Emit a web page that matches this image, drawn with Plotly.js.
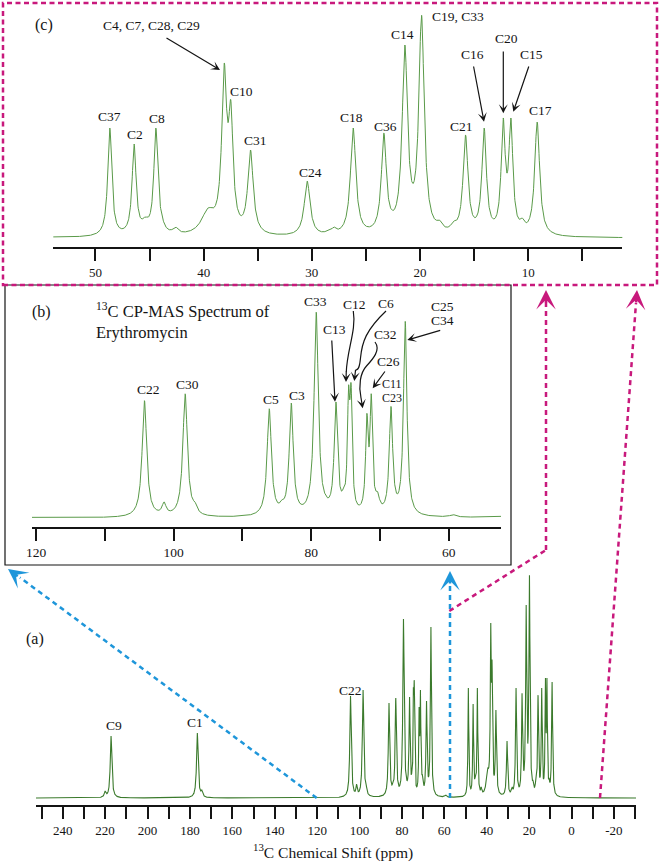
<!DOCTYPE html>
<html><head><meta charset="utf-8">
<script src="https://cdn.plot.ly/plotly-3.0.1.min.js"></script>
<style>html,body{margin:0;padding:0;background:#fff}#chart{width:661px;height:863px}</style>
</head><body><div id="chart"></div>
<script>
// ---- Data ----
// Peak positions (ppm), peak-top heights above baseline (panel (a)/(c) scale), line widths (FWHM, ppm)
const peakPPM = [220.0, 217.2, 176.5, 174.4,
  104.25, 101.4, 98.33, 96.9, 86.1, 84.26, 82.9, 80.87, 79.27, 77.9, 77.4, 76.41, 75.3, 74.57, 74.2, 71.9, 71.27, 70.35, 68.4, 66.33, 59.4,
  49.1, 48.68, 46.43, 45.4, 44.42, 43.9, 42.6, 39.6, 38.1, 37.49, 35.67, 30.43, 28.5, 27.97, 26.18, 23.34, 22.6, 21.4, 19.86, 18.2, 16.9, 15.79, 14.07, 12.31, 11.6, 10.55, 9.9, 9.17];
const peakHeight = [7, 62, 65, 8,
  102, 14, 108, 14, 95, 16, 100, 13, 179, 20, 18, 101, 26, 115, 117, 91, 108, 23, 97, 171, 3,
  12, 110, 94, 21, 110, 25, 11, 30, 175, 138, 88, 57, 8, 11, 110, 105, 28, 193, 223, 18, 17, 103, 110, 120, 120, 20, 18, 116];
const peakWidth = [0.9, 0.9, 0.9, 0.9,
  0.8, 0.7, 0.8, 0.7, 0.75, 0.7, 0.7, 0.8, 0.75, 0.6, 0.6, 0.6, 0.6, 0.4, 0.4, 0.45, 0.45, 0.7, 0.6, 0.6, 1.0,
  0.5, 0.45, 0.45, 0.8, 0.45, 0.6, 0.6, 1.5, 0.55, 0.5, 0.6, 0.65, 0.5, 0.5, 0.6, 0.55, 0.6, 0.6, 0.6, 0.6, 0.6, 0.55, 0.5, 0.45, 0.45, 0.5, 0.5, 0.55];

const aTickVals = [250, 240, 230, 220, 210, 200, 190, 180, 170, 160, 150, 140, 130, 120, 110, 100, 90, 80, 70, 60, 50, 40, 30, 20, 10, 0, -10, -20, -30];
const aTickText = ['', '240', '', '220', '', '200', '', '180', '', '160', '', '140', '', '120', '', '100', '', '80', '', '60', '', '40', '', '20', '', '0', '', '-20', ''];
const bTickVals = [120, 110, 100, 90, 80, 70, 60];
const bTickText = ['120', '', '100', '', '80', '', '60'];
const cTickVals = [50, 45, 40, 35, 30, 25, 20, 15, 10, 5];
const cTickText = ['50', '', '40', '', '30', '', '20', '', '10', ''];

// ---- Line shape from the peak list ----
function lor(x, x0, w) { const d = (x - x0) / (w / 2); return 1 / (1 + d * d); }
let amp = peakHeight.slice();
for (let it = 0; it < 40; it++) {
  const next = peakHeight.map((h, i) => {
    let s = 0;
    for (let j = 0; j < amp.length; j++) if (j !== i) s += amp[j] * lor(peakPPM[i], peakPPM[j], peakWidth[j]);
    return Math.max(h - s, 0);
  });
  amp = amp.map((a, i) => 0.5 * a + 0.5 * next[i]);
}
const xs = [], ys = [];
for (let x = 253; x >= -31; x -= 0.025) {
  let s = 0;
  for (let j = 0; j < amp.length; j++) s += amp[j] * lor(x, peakPPM[j], peakWidth[j]);
  xs.push(x); ys.push(s);
}

// ---- Layout helpers ----
const W = 661, H = 863;
const px = x => x / W, py = y => 1 - y / H;
const F = 'Liberation Serif, Times New Roman, serif';
const INK = '#141414', MAG = '#c8197c', BLUE = '#1e96da';

const traces = [
  {x: xs, y: ys, xaxis: 'x', yaxis: 'y', mode: 'lines', line: {color: '#3b7a2c', width: 1.1}, hoverinfo: 'skip'},
  {x: xs, y: ys, xaxis: 'x2', yaxis: 'y2', mode: 'lines', line: {color: '#5a9a49', width: 1}, hoverinfo: 'skip'},
  {x: xs, y: ys, xaxis: 'x3', yaxis: 'y3', mode: 'lines', line: {color: '#5a9a49', width: 1}, hoverinfo: 'skip'}
];

function xax(dom, range, anchor, vals, text, fs) {
  return {domain: [px(dom[0]), px(dom[1])], range: range, anchor: anchor, showline: true, linewidth: 2, linecolor: INK,
    ticks: 'outside', ticklen: 12, tickwidth: 2, tickcolor: INK, showgrid: false, zeroline: false,
    tickmode: 'array', tickvals: vals, ticktext: text, tickfont: {family: F, size: fs, color: INK}, fixedrange: true};
}
function yax(bottom, top, range) {
  return {domain: [py(bottom), py(top)], range: range, visible: false, fixedrange: true};
}

function lab(text, x, y, size, extra) {
  return Object.assign({x: px(x), y: py(y), xref: 'paper', yref: 'paper', text: text, showarrow: false,
    font: {family: F, size: size || 13.5, color: INK}, xanchor: 'center', yanchor: 'middle'}, extra || {});
}
function arr(tipX, tipY, tailX, tailY, color, w, s) {
  return {x: px(tipX), y: py(tipY), xref: 'paper', yref: 'paper', text: '', showarrow: true,
    ax: tailX - tipX, ay: tailY - tipY, axref: 'pixel', ayref: 'pixel',
    arrowhead: 3, arrowwidth: w || 1.2, arrowsize: s || 1.25, arrowcolor: color || INK};
}
function line(x0, y0, x1, y1, color, width, dash) {
  return {type: 'line', xref: 'paper', yref: 'paper', x0: px(x0), y0: py(y0), x1: px(x1), y1: py(y1),
    line: {color: color, width: width, dash: dash || 'solid'}};
}
function path(pts, color, width) {
  const d = pts.map(p => {
    const c = [];
    for (let k = 1; k < p.length; k += 2) c.push(px(p[k]).toFixed(5) + ',' + py(p[k + 1]).toFixed(5));
    return p[0] + ' ' + c.join(' ');
  }).join(' ');
  return {type: 'path', xref: 'paper', yref: 'paper', path: d, line: {color: color, width: width}};
}

const shapes = [
  {type: 'rect', xref: 'paper', yref: 'paper', x0: px(5), x1: px(511), y0: py(565), y1: py(285), line: {color: INK, width: 1.2}},
  {type: 'rect', xref: 'paper', yref: 'paper', x0: px(3), x1: px(657), y0: py(285), y1: py(3), line: {color: MAG, width: 2.5, dash: '5px,3.5px'}},
  line(316.7, 798, 20, 577.5, BLUE, 2.5, '5px,4px'),
  line(450, 798, 450, 583, BLUE, 2.5, '5px,4px'),
  line(449.3, 611, 546, 550, MAG, 2.5, '5px,4px'),
  line(546, 550, 546, 302, MAG, 2.5, '5px,4px'),
  line(600, 798, 636, 303, MAG, 2.5, '5px,4px'),
  path([['M', 353.3, 311], ['C', 356.5, 330, 347, 350, 346.3, 372]], INK, 1.2),
  path([['M', 386, 311], ['C', 366, 330, 362, 342, 360.5, 358], ['S', 356, 368, 355.2, 371]], INK, 1.2),
  path([['M', 375, 342], ['C', 381, 350, 373, 359, 366.5, 366], ['S', 358.5, 386, 361, 398]], INK, 1.2)
];

const annotations = [
  lab('(c)', 44.3, 25, 16),
  lab('(b)', 41, 312, 16),
  lab('(a)', 34.7, 639, 16),
  lab('<sup>13</sup>C CP-MAS Spectrum of', 94, 310, 16.5, {xanchor: 'left'}),
  lab('Erythromycin', 94, 332, 16.5, {xanchor: 'left'}),
  lab('<sup>13</sup>C Chemical Shift (ppm)', 333, 851, 15.5),
  // (c)
  lab('C4, C7, C28, C29', 151, 25),
  lab('C37', 110, 116.7), lab('C2', 135, 135), lab('C8', 156.7, 119),
  lab('C10', 241, 91), lab('C31', 255.7, 140), lab('C24', 310, 172.3),
  lab('C18', 351, 117.3), lab('C36', 385, 126), lab('C14', 402.3, 35),
  lab('C19, C33', 457.7, 16.7), lab('C21', 461, 126), lab('C16', 472.7, 54.3),
  lab('C20', 506, 39), lab('C15', 531.7, 54.3), lab('C17', 540, 110),
  arr(220, 70, 165, 37), arr(484, 121.7, 473.3, 65), arr(503.3, 113.3, 503.3, 50), arr(513.3, 111.7, 529.3, 65),
  // (b)
  lab('C22', 148.3, 389.3), lab('C30', 187.3, 384.3), lab('C5', 271, 399.3), lab('C3', 296.7, 395),
  lab('C33', 315.7, 301.7), lab('C13', 334, 330), lab('C12', 354.3, 304.3), lab('C6', 386, 303.3),
  lab('C32', 385, 334.3), lab('C26', 388.3, 361.7), lab('C11', 391.7, 384.3, 12), lab('C23', 391.7, 397.7, 12),
  lab('C25', 442.7, 306.7), lab('C34', 442.7, 320),
  arr(335, 401.7, 331.7, 339), arr(346, 382, 346.3, 370), arr(354.3, 381, 355.6, 369.5), arr(362.7, 408.3, 360.8, 396.5),
  arr(372.7, 388.3, 386, 370), arr(407.3, 340, 441.7, 330),
  // (a)
  lab('C9', 114.3, 725), lab('C1', 195, 722.7), lab('C22', 350.7, 690.7),
  // zoom-guide arrowheads
  arr(8, 569, 19.2, 577.3, BLUE, 2.5, 1.3),
  arr(450, 571, 450, 585, BLUE, 2.5, 1.3),
  arr(546, 290, 546, 304, MAG, 2.5, 1.3),
  arr(637, 290, 636, 304, MAG, 2.5, 1.3)
];

const layout = {
  width: W, height: H, autosize: false, margin: {l: 0, r: 0, t: 0, b: 0},
  paper_bgcolor: '#fff', plot_bgcolor: 'rgba(0,0,0,0)', showlegend: false,
  xaxis: xax([36, 636], [252.6, -30.4], 'y', aTickVals, aTickText, 13),
  yaxis: yax(805, 570, [-7, 228]),
  xaxis2: xax([32, 501], [120.6, 52.4], 'y2', bTickVals, bTickText, 13.5),
  yaxis2: yax(527, 290, [-9 / 1.15, 228 / 1.15]),
  xaxis3: xax([53.3, 622.3], [53.9, 1.3], 'y3', cTickVals, cTickText, 13),
  yaxis3: yax(247, 10, [-9, 228]),
  shapes: shapes, annotations: annotations
};

Plotly.newPlot('chart', traces, layout, {staticPlot: true, displayModeBar: false});
</script>
</body></html>
